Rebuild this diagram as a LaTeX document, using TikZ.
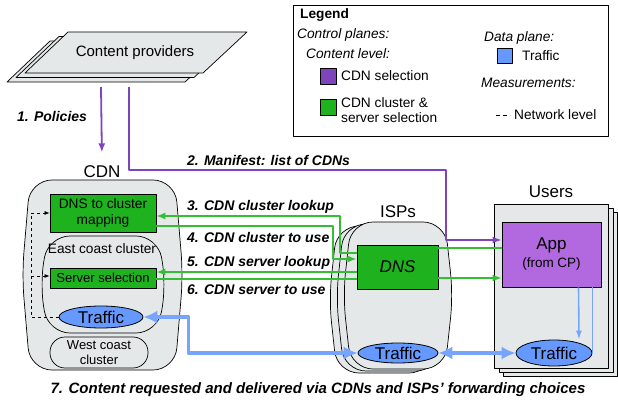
\documentclass[tikz,border=0pt]{standalone}
\usepackage{fontspec}
\setmainfont{Liberation Sans}
\usetikzlibrary{arrows.meta,shapes.geometric}
\definecolor{shade}{RGB}{228,232,232}
\definecolor{cpgreen}{RGB}{30,178,30}
\definecolor{cpline}{RGB}{52,190,52}
\definecolor{cdnsel}{RGB}{126,68,188}
\definecolor{appfill}{RGB}{178,104,222}
\definecolor{trblue}{RGB}{102,153,255}
\definecolor{trline}{RGB}{118,164,255}
\newcommand{\barrelshape}[4]{%
  \draw[body] ({(#1+#3)/2},#2) -- ({#3-8},#2) -- (#3,{(#2+#4)/2}) -- ({#3-8},#4) -- ({#1+8},#4) -- (#1,{(#2+#4)/2}) -- ({#1+8},#2) -- cycle;}
\begin{document}
\begin{tikzpicture}[x=1pt,y=-1pt,>={Latex[length=9pt,width=7pt]},line join=round,
  body/.style={draw,fill=shade,line width=0.7pt,rounded corners=22pt},
  txt/.style={font=\fontsize{13.7}{16.5}\selectfont},
  it/.style={font=\fontsize{13.7}{16}\selectfont\itshape},
  big/.style={font=\fontsize{17}{19}\selectfont},
  lbl/.style={font=\fontsize{14}{16}\selectfont\bfseries\itshape,anchor=west,inner sep=0pt},
  leg/.style={txt,anchor=west,inner sep=0pt,align=left},
  swatch/.style={draw,line width=0.8pt,minimum size=16,inner sep=0pt},
  grnbox/.style={draw,fill=cpgreen,line width=0.8pt,align=center},
  trf/.style={ellipse,draw,fill=trblue,big,inner sep=0pt,line width=0.8pt},
  gline/.style={cpline,line width=1.6pt},
  pline/.style={cdnsel,line width=1.8pt},
  bthick/.style={trline,line width=3.6pt,>={Latex[length=14pt,width=13pt]}},
  bthin/.style={trline,line width=1.6pt,>={Latex[length=9pt,width=6pt]}},
  dline/.style={dashed,line width=0.7pt,>={Latex[length=5pt,width=4pt]}}]
\useasboundingbox (0,0) rectangle (618,403);
\foreach \off in {18,9,0}
  \draw[fill=shade,line width=0.7pt] (68-\off,32+\off/2) -- (247-\off,32+\off/2) -- (203-\off,73+\off/2) -- (25-\off,73+\off/2) -- cycle;
\node[font=\fontsize{15}{17}\selectfont] (cp) at (135,53) {Content providers};
\coordinate (pol) at (101,87);
\coordinate (man) at (129,87);
\node[draw,line width=0.8pt,minimum width=315,minimum height=131,anchor=north west,inner sep=0pt] (legend) at (293,5) {};
\node[leg,font=\fontsize{13.7}{16}\selectfont\bfseries] at (300,15) {Legend};
\node[leg,it] at (297,35) {Control planes:};
\node[leg,it] at (306,54) {Content level:};
\node[swatch,fill=cdnsel] (swp) at (328,76) {};
\node[leg] at (341,76) {CDN selection};
\node[swatch,fill=cpgreen] (swg) at (328,107.5) {};
\node[leg,font=\fontsize{13.7}{15}\selectfont] at (341,110.5) {CDN cluster \&\\server selection};
\node[leg,it] at (484,38) {Data plane:};
\node[swatch,fill=trblue,minimum size=15] (swb) at (505,55.5) {};
\node[leg] at (522,56) {Traffic};
\node[leg,it] at (481,83) {Measurements:};
\draw[dashed,dash pattern=on 4pt off 3pt,line width=0.7pt] (496,115) -- (510,115);
\node[leg] at (514,115) {Network level};
\node[big] (cdnlbl) at (102,172) {CDN};
\barrelshape{22}{180}{183}{370}
\barrelshape{40}{236}{166}{333}
\node[txt,inner sep=0pt] (east) at (102,249) {East coast cluster};
\node[grnbox,txt,minimum width=106,minimum height=38] (map) at (103,213) {DNS to cluster\\mapping};
\node[grnbox,font=\fontsize{13}{15}\selectfont,minimum width=106,minimum height=20,inner sep=0pt] (sel) at (103,278) {Server selection};
\node[trf,minimum width=84,minimum height=22] (ctraf) at (101,317) {Traffic};
\node[draw,fill=shade,line width=0.7pt,rounded corners=15pt,minimum width=98,minimum height=31,inner sep=1pt,align=center,font=\fontsize{13}{15}\selectfont] (west) at (99,352.5) {West coast\\cluster};
\foreach \off/\dy in {14/4,7/2,0/0} {\barrelshape{343-\off}{222+\dy}{453-\off}{369+\dy}}
\node[big] (isplbl) at (398,212) {ISPs};
\node[grnbox,font=\fontsize{17}{19}\selectfont\itshape,minimum width=81,minimum height=44] (dns) at (397.5,267) {DNS};
\node[trf,minimum width=80,minimum height=20] (itraf) at (398,353) {Traffic};
\foreach \off/\dy in {9/8,5/4,0/0}
  \draw[fill=shade,line width=0.7pt] (494+\off,204+\dy) rectangle (608+\off,368+\dy);
\node[big] (userlbl) at (551,192) {Users};
\node[draw,fill=appfill,line width=0.8pt,minimum width=99,minimum height=65,align=center,font=\fontsize{17}{18}\selectfont] (app) at (551.5,254.5) {App\\{\fontsize{13.5}{15}\selectfont (from CP)}};
\node[trf,minimum width=76,minimum height=26] (utraf) at (554,353) {Traffic};
\draw[pline,->,shorten >=10pt] (pol) -- (cdnlbl.north);
\node[lbl] at (17,116) {1. Policies};
\draw[pline,->] (man) |- (446,170) |- (app.west |- 0,240);
\node[lbl] at (187,160) {2. Manifest: list of CDNs};
\draw[gline,->] (dns.west |- 0,253) -- (340,253) -- (340,216) -- (map.east |- 0,216);
\draw[gline,->] (map.east |- 0,226) -- (333,226) -- (333,259) -- (dns.west |- 0,259);
\draw[gline,->] (dns.west |- 0,272) -- (sel.east |- 0,272);
\draw[gline] (sel.east |- 0,279) -- (dns.west |- 0,279);
\draw[gline] (dns.east |- 0,248) -- (app.west |- 0,248);
\draw[gline,->] (dns.east |- 0,278) -- (app.west |- 0,278);
\node[lbl] at (187,207) {3. CDN cluster lookup};
\node[lbl] at (187,237) {4. CDN cluster to use};
\node[lbl] at (187,263) {5. CDN server lookup};
\node[lbl] at (187,290) {6. CDN server to use};
\coordinate (fb) at (31,276);
\draw[dline,->] (ctraf.west) -- (31,317) |- (map.west |- 0,213);
\draw[dline,->] (fb) -- (sel.west |- fb);
\draw[bthick,<->] (ctraf.east) -- ++(45,0) |- (itraf.west);
\draw[bthick,<->] (itraf.east) -- (utraf.west);
\draw[bthin,->] ([xshift=27pt]app.south) -- ([xshift=25pt]utraf.north);
\draw[bthin] (app.south -| utraf.east) -- (utraf.east);
\node[font=\fontsize{15}{17}\selectfont\bfseries\itshape] (caption) at (318,390) {7. Content requested and delivered via CDNs and ISPs’ forwarding choices};
\end{tikzpicture}
\end{document}
